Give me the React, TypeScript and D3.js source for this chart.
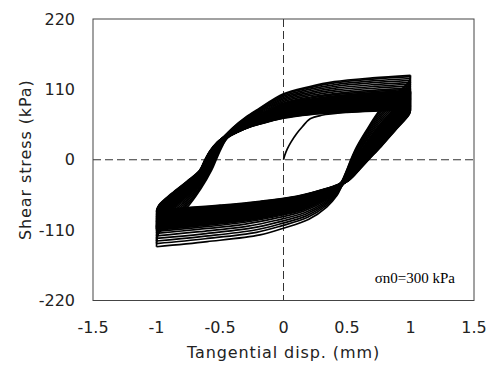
import React from 'react';
import * as d3 from 'd3';

const W = 492;
const H = 365;
const plot = { left: 93, right: 474, top: 19, bottom: 300.5 };

const xTicks = [-1.5, -1, -0.5, 0, 0.5, 1, 1.5];
const yTicks = [-220, -110, 0, 110, 220];
const xLabel = 'Tangential disp. (mm)';
const yLabel = 'Shear stress (kPa)';
const annotation = 'σn0=300 kPa';

// positive peak stress reached at +1 mm for each cycle (kPa)
const positivePeaks = [78, 78.75, 79.5, 80.25, 81, 81.75, 82.5, 83.25, 84, 84.75, 85.5, 86.25, 87, 87.75, 88.5, 89.25, 90, 90.75, 91.5, 92.25, 93, 93.75, 94.5, 95.25, 96, 96.75, 97.5, 98.25, 99, 99.75, 100.5, 101.25, 102, 102.75, 103.5, 104.25, 105, 105.75, 106.5, 107.25, 108, 110, 112, 115, 118, 121, 124, 127, 130, 132];
// magnitude of negative peak stress reached at -1 mm for each cycle (kPa)
const negativePeaks = [136, 131, 127, 123, 119, 115, 112, 110, 108.5, 107.8, 107, 106.2, 105.4, 104.6, 103.8, 103, 102.2, 101.4, 100.6, 99.8, 99, 98.3, 97.6, 96.9, 96.2, 95.5, 94.8, 94.1, 93.4, 92.7, 92, 91.3, 90.6, 89.9, 89.2, 88.5, 87.8, 87.1, 86.4, 85.7, 85, 84.3, 83.6, 82.9, 82.2, 81.5, 80.8, 80.1, 79.4, 78.5];

// first loading curve [disp mm, stress kPa]
const initialCurve: [number, number][] = [[0, 0], [0.01, 7], [0.03, 17], [0.06, 28], [0.1, 40], [0.15, 52], [0.21, 64], [0.3, 69.5], [0.5, 74], [0.76, 76.5], [1, 78]];

// reloading (ascending) branch, steep part, read for the smallest and the largest start
const ascLow: [number, number][] = [[-1, -78.5], [-0.98, -70], [-0.88, -52], [-0.76, -33], [-0.66, -16], [-0.62, 0], [-0.58, 14], [-0.52, 28], [-0.47, 36]];
const ascHigh: [number, number][] = [[-1, -136], [-0.985, -116], [-0.9, -99], [-0.77, -77], [-0.65, -45], [-0.565, -16], [-0.53, 0], [-0.49, 18], [-0.44, 34]];
// ascending branch, hardening part
const upLow: [number, number][] = [[-0.44, 34], [-0.35, 44], [-0.264, 51], [-0.1, 60], [0, 64.5], [0.21, 70], [0.5, 74], [0.76, 76.5], [1, 78]];
const upHigh: [number, number][] = [[-0.47, 36], [-0.4, 50], [-0.3, 66], [-0.2, 79], [0, 103], [0.2, 114], [0.4, 122], [0.7, 128], [1, 132]];
// unloading (descending) branch, steep part
const descLow: [number, number][] = [[1, 78], [0.99, 71], [0.88, 46], [0.77, 21], [0.67, 0], [0.6, -15], [0.55, -26], [0.51, -33], [0.47, -38]];
const descHigh: [number, number][] = [[1, 132], [0.99, 123], [0.87, 100], [0.76, 78], [0.65, 45], [0.576, 20], [0.53, 0], [0.49, -20], [0.45, -36]];
// descending branch, softening part
const lowerLow: [number, number][] = [[0.46, -36], [0.4, -41], [0.3, -47], [0.1, -57], [-0.185, -65], [-0.5, -71], [-0.8, -75.5], [-1, -78.5]];
const lowerHigh: [number, number][] = [[0.47, -38], [0.42, -56], [0.34, -74], [0.2, -93], [0, -107], [-0.185, -117.5], [-0.6, -128], [-1, -136]];

const clamp = (t: number) => Math.max(0, Math.min(1, t));
const blend = (a: [number, number][], b: [number, number][], t: number): [number, number][] =>
  a.map((p, k) => [p[0] + (b[k][0] - p[0]) * t, p[1] + (b[k][1] - p[1]) * t]);

const ascending = (s: number, e: number) => {
  const steep = blend(ascLow, ascHigh, clamp((s - 78.5) / (136 - 78.5)));
  const up = blend(upLow, upHigh, clamp((e - 78) / (132 - 78)));
  return steep.concat(up.slice(1));
};
const descending = (p: number, n: number) => {
  const steep = blend(descLow, descHigh, clamp((p - 78) / (132 - 78)));
  const low = blend(lowerLow, lowerHigh, clamp((n - 78.5) / (136 - 78.5)));
  return steep.concat(low.slice(1));
};

export default function App() {
  const x = d3.scaleLinear().domain([-1.5, 1.5]).range([plot.left, plot.right]);
  const y = d3.scaleLinear().domain([-220, 220]).range([plot.bottom, plot.top]);
  const line = d3
    .line<[number, number]>()
    .x((d) => x(d[0]))
    .y((d) => y(d[1]))
    .curve(d3.curveCatmullRom.alpha(0.5));

  const branches: [number, number][][] = [initialCurve];
  positivePeaks.forEach((p, i) => {
    branches.push(descending(p, negativePeaks[i]));
    if (i + 1 < positivePeaks.length) branches.push(ascending(negativePeaks[i], positivePeaks[i + 1]));
  });

  const font = '"DejaVu Sans", sans-serif';
  return (
    <svg width={W} height={H} style={{ position: 'absolute', left: 0, top: 0, background: '#fff' }}>
      <rect x={0} y={0} width={W} height={H} fill="#fff" />
      <line x1={x(0)} x2={x(0)} y1={plot.top} y2={plot.bottom} stroke="#333" strokeWidth={1} strokeDasharray="8 4" />
      <line x1={plot.left} x2={plot.right} y1={y(0)} y2={y(0)} stroke="#333" strokeWidth={1} strokeDasharray="8 4" />
      <g fill="none" stroke="#000" strokeWidth={1.7} strokeLinejoin="round">
        {branches.map((b, i) => (
          <path key={i} d={line(b) || ''} />
        ))}
      </g>
      <rect x={plot.left} y={plot.top} width={plot.right - plot.left} height={plot.bottom - plot.top} fill="none" stroke="#444" strokeWidth={1} />
      <g fontFamily={font} fill="#222">
        <g fontSize={16}>
          {yTicks.map((t) => (
            <text key={t} x={75} y={y(t)} dy="0.35em" textAnchor="end">{t}</text>
          ))}
          {xTicks.map((t) => (
            <text key={t} x={x(t)} y={333} textAnchor="middle">{t}</text>
          ))}
        </g>
        <g fontSize={16} letterSpacing={0.9}>
          <text x={(plot.left + plot.right) / 2} y={358} textAnchor="middle">{xLabel}</text>
          <text transform={`translate(31,${(plot.top + plot.bottom) / 2}) rotate(-90)`} textAnchor="middle">{yLabel}</text>
        </g>
      </g>
      <text x={455} y={283} textAnchor="end" fontFamily='"Liberation Serif", serif' fontSize={15} fill="#000">{annotation}</text>
    </svg>
  );
}
